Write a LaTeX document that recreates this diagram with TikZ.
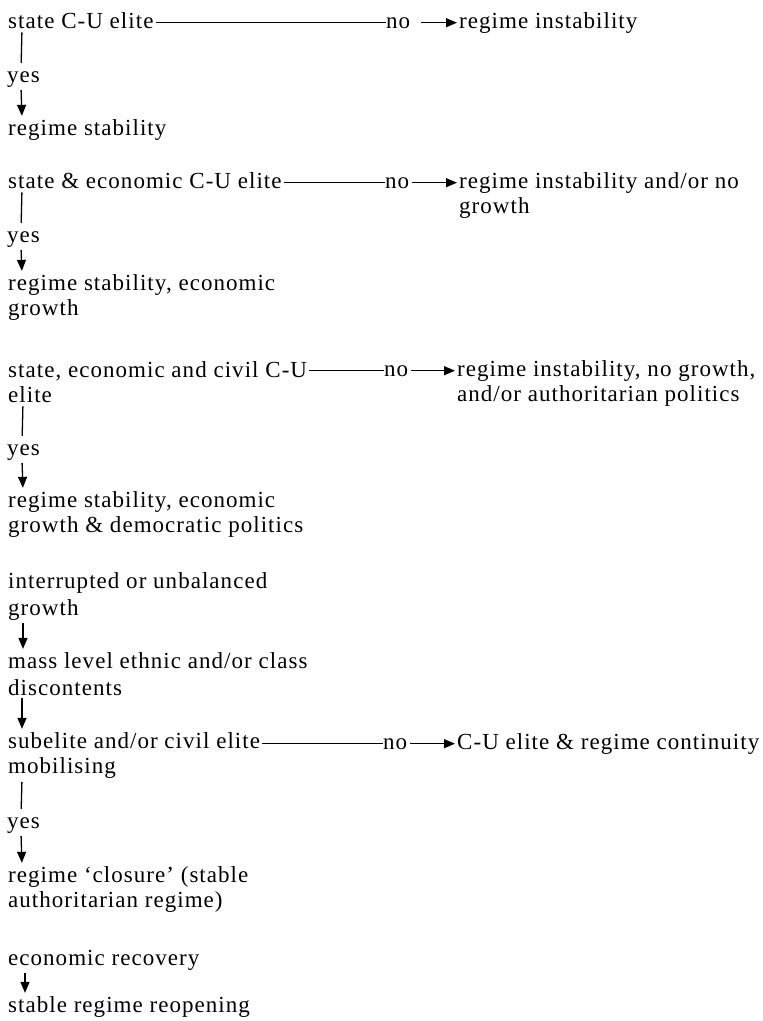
\documentclass[tikz,border=0pt]{standalone}
\usepackage{fontspec}
\setmainfont{Liberation Serif}[LetterSpace=4.5]
\usetikzlibrary{arrows.meta}

\tikzset{
  stem/.style={draw,line width=1.3pt,shorten <=4pt,shorten >=8pt},
  flow/.style={draw,line width=1.3pt,-{Triangle[length=11pt,width=9pt]},shorten <=3pt,shorten >=3pt},
  branch/.style={draw,line width=1.2pt,shorten <=2pt},
  nobranch/.style={draw,line width=1.2pt,-{Triangle[length=11pt,width=9pt]},shorten <=3pt,shorten >=2pt}
}

\begin{document}
\begin{tikzpicture}[x=1pt,y=-1pt]
  \useasboundingbox (0,0) rectangle (763,1021);

  \begin{scope}[every node/.style={anchor=base west,inner sep=0pt,align=left,
      font=\fontsize{23}{25}\selectfont}]
    % left column (multi-line nodes sit on their last line)
    \node (sCU)    at (8,28)   {state C-U elite};
    \node (yes1)   at (7,82)   {yes};
    \node (rs1)    at (8,135)  {regime stability};
    \node (seCU)   at (8,188)  {state \& economic C-U elite};
    \node (yes2)   at (7,242)  {yes};
    \node (rs2)    at (8,315)  {regime stability, economic\\growth};
    \node (secCU)  at (8,402)  {state, economic and civil C-U\\elite};
    \node (yes3)   at (7,455)  {yes};
    \node (rs3)    at (8,532)  {regime stability, economic\\growth \& democratic politics};
    \node (intgr)  at (8,615)  {interrupted or unbalanced\\[2pt]growth};
    \node (mass)   at (8,695)  {mass level ethnic and/or class\\[2pt]discontents};
    \node (sub)    at (8,773)  {subelite and/or civil elite\\mobilising};
    \node (yes4)   at (7,828)  {yes};
    \node (closure) at (8,907) {regime `closure' (stable\\authoritarian regime)};
    \node (recov)  at (8,965)  {economic recovery};
    \node (reopen) at (8,1012) {stable regime reopening};
    % no labels
    \node (no1) at (386,28)  {no};
    \node (no2) at (385,188) {no};
    \node (no3) at (384,376) {no};
    \node (no4) at (383,749) {no};
    % right column
    \node (ri1)  at (459,28)  {regime instability};
    \node (ri2)  at (459,213) {regime instability and/or no\\growth};
    \node (ri3)  at (457,401) {regime instability, no growth,\\and/or authoritarian politics};
    \node (cont) at (457,749) {C-U elite \& regime continuity};
  \end{scope}

  % yes paths
  \path ([xshift=14pt]sCU.south west)   edge[stem] ([xshift=14pt]yes1.north west);
  \path ([xshift=14pt]yes1.south west)  edge[flow] ([xshift=14pt]rs1.north west);
  \path ([xshift=14pt]seCU.south west)  edge[stem] ([xshift=14pt]yes2.north west);
  \path ([xshift=14pt]yes2.south west)  edge[flow] ([xshift=14pt]rs2.north west);
  \path ([xshift=15pt]secCU.south west) edge[stem] ([xshift=15pt]yes3.north west);
  \path ([xshift=15pt]yes3.south west)  edge[flow] ([xshift=15pt]rs3.north west);
  \path ([xshift=15pt]intgr.south west) edge[flow] ([xshift=15pt]mass.north west);
  \path ([xshift=14pt]mass.south west)  edge[flow] ([xshift=14pt]sub.north west);
  \path ([xshift=14pt]sub.south west)   edge[stem] ([xshift=14pt]yes4.north west);
  \path ([xshift=14pt]yes4.south west)  edge[flow] ([xshift=14pt]closure.north west);
  \path ([xshift=17pt]recov.south west) edge[flow] ([xshift=17pt]reopen.north west);

  % no paths
  \path (no1.west -| sCU.east)   edge[branch] (no1.west);
  \path (no1.east) edge[nobranch,shorten <=11pt] (no1.east -| ri1.west);
  \path (no2.west -| seCU.east)  edge[branch] (no2.west);
  \path (no2.east) edge[nobranch] (no2.east -| ri2.west);
  \path (no3.west -| secCU.east) edge[branch] (no3.west);
  \path (no3.east) edge[nobranch] (no3.east -| ri3.west);
  \path (no4.west -| sub.east)   edge[branch] (no4.west);
  \path (no4.east) edge[nobranch] (no4.east -| cont.west);

\end{tikzpicture}
\end{document}
